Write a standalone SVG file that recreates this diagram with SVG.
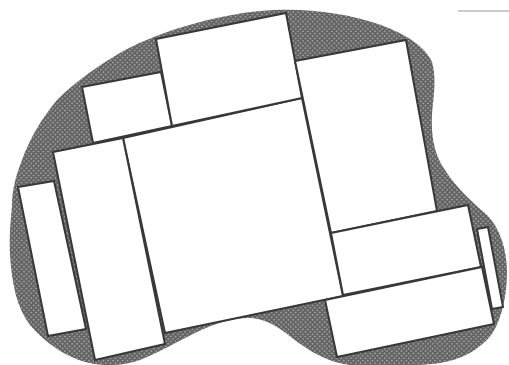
<svg xmlns="http://www.w3.org/2000/svg" width="509" height="365" viewBox="0 0 509 365">
<defs>
<pattern id="dots" width="3.4" height="3.4" patternUnits="userSpaceOnUse" patternTransform="rotate(45)">
<rect width="3.4" height="3.4" fill="#646464"/>
<circle cx="1.7" cy="1.7" r="0.8" fill="#b0b0b0"/>
</pattern>
</defs>
<style>
.pc{fill:#ffffff;stroke:#383838;stroke-width:2;stroke-linejoin:miter}
</style>
<rect width="509" height="365" fill="#ffffff"/>
<path id="blob" fill="url(#dots)" d="M12,205 C12,190 16,175 22,160 C30,138 42,118 57,100 C75,82 100,64 125,50 C160,32 210,16 260,11 C300,7 345,12 381,25 C405,34 425,46 432,62 C437,78 433,100 432,115 C431,135 434,155 445,170 C455,186 470,200 487,215 C500,228 507,250 507,272 C507,295 502,318 492,334 C480,350 460,360 440,363 C420,366 380,366 350,365 C330,363 310,352 292,338 C280,328 268,320 252,318 C235,317 215,323 195,333 C175,343 160,352 140,360 C120,367 100,366 85,362 C65,356 45,343 30,325 C17,308 12,285 10,255 C9,235 11,218 12,205 Z"/>
<g id="r0"><polygon class="pc" points="123,138 302,98 343,296 165,333"/></g>
<g id="r1"><polygon class="pc" points="82,87 161,72 172,126 93,143"/></g>
<g id="r2"><polygon class="pc" points="156,39 286,13 302,98 172,126"/></g>
<g id="r3"><polygon class="pc" points="295,61 406,40 437,211 331,233"/></g>
<g id="r4"><polygon class="pc" points="53,152 123,138 165,344 95,360"/></g>
<g id="r5"><polygon class="pc" points="18,187 54,181 86,329 48,336"/></g>
<g id="r6"><polygon class="pc" points="331,233 468,205 481,267 343,295"/></g>
<g id="r7"><polygon class="pc" points="325,300 482,267 494,324 337,357"/></g>
<g id="r8"><polygon class="pc" points="477,229 488,227 503,307 492,309"/></g>
<g id="mark"><line x1="458" y1="11" x2="509" y2="11" stroke="#9a9a9a" stroke-width="1.2"/></g>
</svg>
